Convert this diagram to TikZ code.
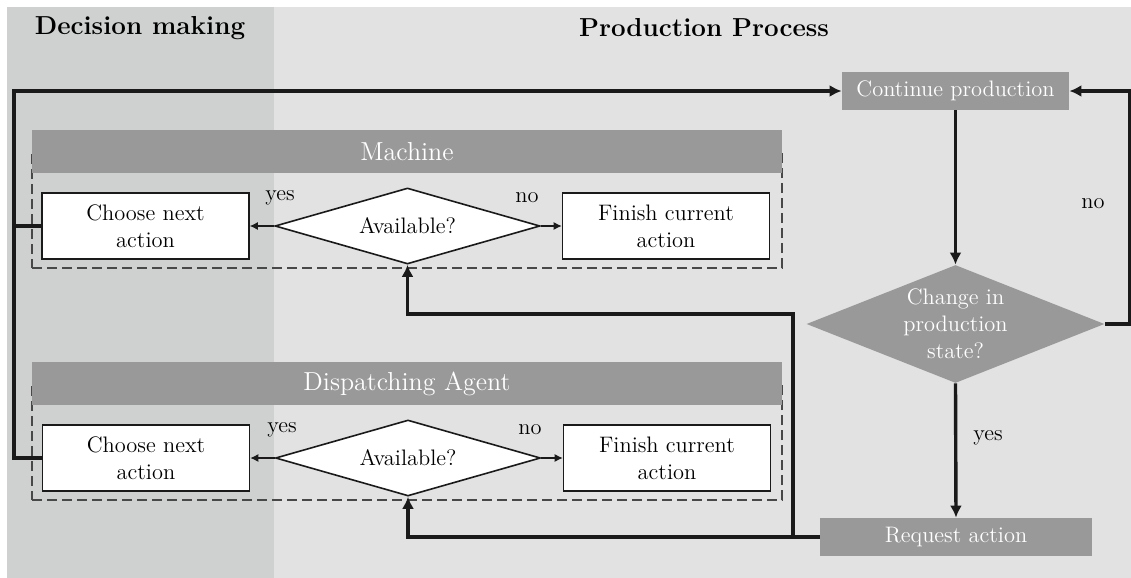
\documentclass[tikz,border=0pt]{standalone}
\usetikzlibrary{shapes.geometric,arrows.meta}
\definecolor{bgdark}{HTML}{CFD1D1}
\definecolor{bglight}{HTML}{E2E2E2}
\definecolor{boxgray}{HTML}{999999}
\definecolor{linecol}{HTML}{1A1A1A}
\newcommand{\bodyfnt}{\fontsize{11.2}{13.5}\selectfont}
\newcommand{\hdrfnt}{\fontsize{13}{15}\selectfont}
\newcommand{\ttlfnt}{\fontsize{13}{15}\selectfont\bfseries}
\begin{document}
\begin{tikzpicture}[x=0.5pt,y=-0.5pt,
  wbox/.style={draw=linecol, fill=white, line width=0.8pt, minimum width=103.5pt, minimum height=33pt, align=center, inner sep=0pt, font=\bodyfnt},
  gbox/.style={fill=boxgray, text=white, inner sep=0pt, align=center, font=\bodyfnt},
  avail/.style={diamond, draw=linecol, fill=white, line width=0.8pt, minimum width=132.5pt, minimum height=38pt, inner sep=0pt, aspect=3.5, font=\bodyfnt},
  chgd/.style={diamond, fill=boxgray, text=white, minimum width=149pt, minimum height=59pt, inner sep=0pt, aspect=2.5, align=center, font=\bodyfnt},
  hdr/.style={fill=boxgray, text=white, minimum width=375pt, minimum height=21.5pt, inner sep=0pt, font=\hdrfnt},
  grp/.style={draw=linecol!80, dash pattern=on 5pt off 2.5pt, line width=0.6pt, minimum width=375pt, minimum height=58.5pt, inner sep=0pt},
  lbl/.style={font=\bodyfnt, inner sep=0pt},
  ttl/.style={font=\ttlfnt, inner sep=0pt},
  thinarrow/.style={draw=linecol, line width=0.6pt, -{Latex[length=4pt,width=4pt]}},
  thickline/.style={draw=linecol, line width=1.7pt},
  thickarrow/.style={draw=linecol, line width=1.7pt, -{Latex[length=6pt,width=6pt]}}
]
\useasboundingbox (0,0) rectangle (1131,578);
\fill[bglight] (7,7) rectangle (1131,578);
\fill[bgdark] (7,7) rectangle (274,578);

\node[ttl] (t1) at (140,28) {Decision making};
\node[ttl] (t2) at (704,28) {Production Process};

% Machine group
\node[grp] (mg) at (407,209.5) {};
\node[hdr] (mh) at (407,151.5) {Machine};
\node[wbox] (mc) at (145.5,226) {Choose next\\action};
\node[avail] (ma) at (407.5,226) {Available?};
\node[wbox] (mf) at (666,226) {Finish current\\action};
\node[lbl] (my) at (280,198) {yes};
\node[lbl] (mn) at (527,198) {no};

% Dispatching group
\node[grp] (dg) at (407,441.5) {};
\node[hdr] (dh) at (407,383.5) {Dispatching Agent};
\node[wbox] (dc) at (146,458) {Choose next\\action};
\node[avail] (da) at (408,458) {Available?};
\node[wbox] (df) at (667,458) {Finish current\\action};
\node[lbl] (dy) at (282,430) {yes};
\node[lbl] (dn) at (530,430) {no};

% Production process
\node[gbox, minimum width=113.5pt, minimum height=19pt] (cont) at (955.5,91) {Continue production};
\node[chgd] (chg) at (955.5,324) {Change in\\production\\state?};
\node[gbox, minimum width=136pt, minimum height=19pt] (req) at (956,537) {Request action};
\node[lbl] (rn) at (1093,204) {no};
\node[lbl] (ry) at (988,438) {yes};

% connectors
\draw[thinarrow] (ma.west) -- (mc.east);
\draw[thinarrow] (ma.east) -- (mf.west);
\draw[thinarrow] (da.west) -- (dc.east);
\draw[thinarrow] (da.east) -- (df.west);

\coordinate (tl) at (14,91);
\draw[thickline] (mc.west) -| (tl);
\draw[thickarrow] (dc.west) -| (tl) -- (cont.west);

\draw[thickarrow] (cont.south) -- (chg.north);
\coordinate (rr) at (1129.5,324);
\draw[thickarrow] (chg.east) -- (rr) |- (cont.east);
\draw[thickarrow] (chg.south) -- (req.north);

\draw[thickarrow] (req.west) -| (da.south);
\coordinate (j1) at (793,537);
\coordinate (j2) at (793,314);
\draw[thickarrow] (j1) -- (j2) -| (ma.south);
\end{tikzpicture}
\end{document}
